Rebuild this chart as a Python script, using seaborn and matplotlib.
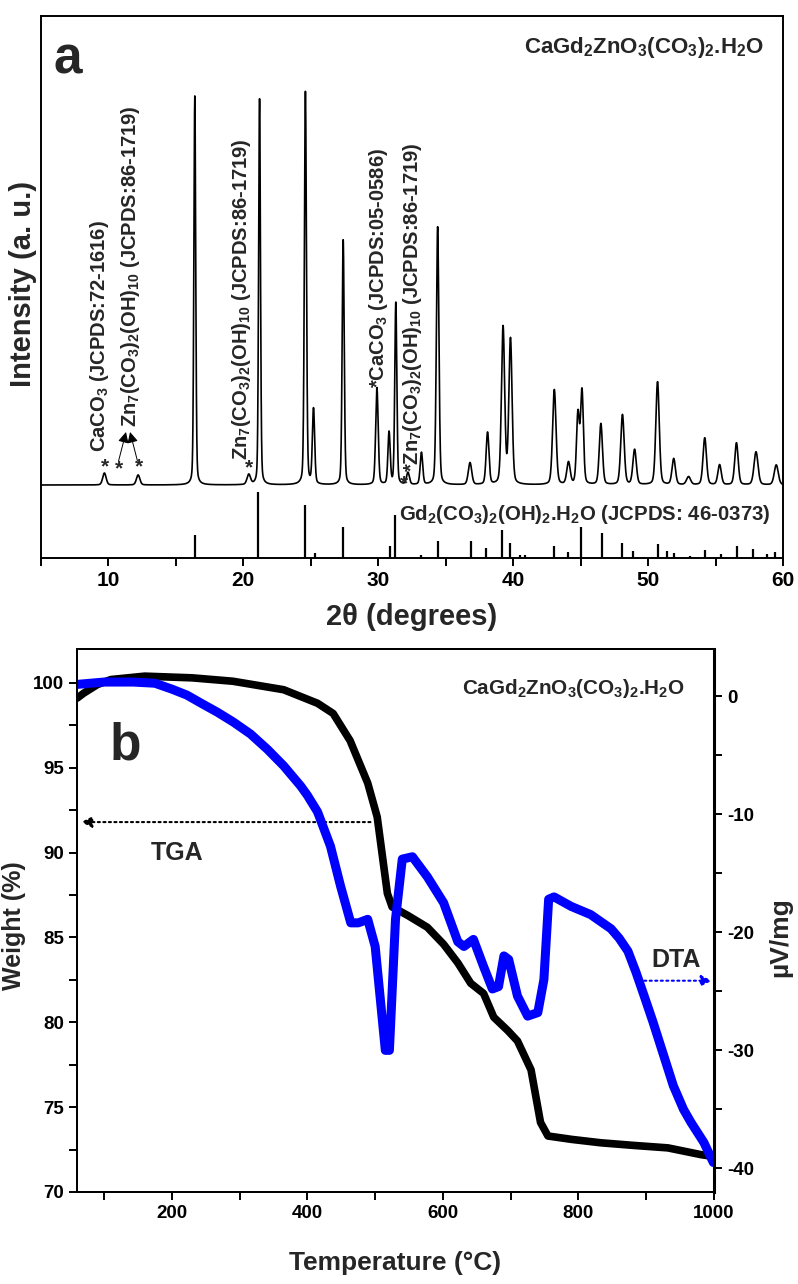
import numpy as np
import matplotlib
matplotlib.use('Agg')
import matplotlib.pyplot as plt
import seaborn as sns

# ---- XRD (panel a) ----
# peak positions (2theta), heights (arbitrary units above baseline) and widths
xrd_pos = [9.7, 12.2, 16.4, 20.4, 21.2, 24.6, 25.2, 27.4, 29.9, 30.8, 31.3, 32.2, 33.2,
           34.4, 36.8, 38.1, 39.25, 39.8, 43.05, 44.1, 44.8, 45.1, 46.5, 48.1, 49.0,
           50.7, 51.9, 53.0, 54.2, 55.3, 56.55, 58.0, 59.5]
xrd_height = [12, 10, 389, 10, 386, 393, 75, 245, 97, 52, 182, 12, 32,
              258, 22, 52, 157, 145, 95, 22, 70, 93, 61, 70, 35,
              103, 26, 8, 47, 20, 42, 33, 20]
xrd_fwhm = [0.3, 0.3, 0.16, 0.3, 0.16, 0.18, 0.2, 0.18, 0.22, 0.2, 0.18, 0.25, 0.22,
            0.22, 0.3, 0.25, 0.28, 0.28, 0.3, 0.3, 0.25, 0.25, 0.28, 0.3, 0.3,
            0.3, 0.3, 0.35, 0.3, 0.3, 0.3, 0.35, 0.35]
xrd_baseline = 73

# reference pattern Gd2(CO3)2(OH)2.H2O (JCPDS 46-0373)
stick_pos = [16.4, 21.1, 24.6, 25.3, 27.4, 30.85, 31.25, 33.2, 34.4, 36.9, 38.0, 39.2,
             39.8, 40.5, 40.9, 43.0, 44.1, 45.0, 46.6, 48.1, 48.9, 50.7, 51.4, 51.9,
             53.1, 54.2, 55.4, 56.6, 57.8, 58.8, 59.4]
stick_height = [23, 66, 53, 5, 31, 12, 43, 3, 17, 17, 10, 28,
                15, 3, 3, 12, 6, 31, 25, 15, 7, 14, 7, 5,
                2, 8, 4, 12, 9, 4, 6]

# ---- TGA / DTA (panel b) ----
tga_temp = [60, 70, 90, 110, 160, 230, 290, 365, 415, 438, 463, 489, 503, 512, 518, 525,
            548, 577, 601, 622, 641, 660, 675, 696, 710, 730, 744, 755, 790, 833, 880,
            932, 981, 998]
tga_weight = [99.1, 99.4, 99.9, 100.2, 100.4, 100.3, 100.1, 99.6, 98.8, 98.2, 96.6, 94.1,
              92.1, 89.4, 87.6, 86.8, 86.3, 85.6, 84.6, 83.5, 82.3, 81.7, 80.3, 79.5,
              78.9, 77.2, 74.1, 73.3, 73.1, 72.9, 72.75, 72.6, 72.2, 72.1]

dta_temp = [60, 100, 143, 175, 200, 222, 245, 267, 291, 316, 341, 365, 390, 400, 415, 434,
            449, 464, 475, 489, 500, 515, 521, 530, 540, 555, 577, 601, 622, 631, 645,
            660, 673, 682, 690, 697, 710, 725, 740, 749, 756, 764, 789, 818, 848, 860,
            873, 885, 897, 910, 925, 940, 955, 966, 985, 999]
dta_uv = [1.0, 1.2, 1.2, 1.1, 0.6, 0.1, -0.65, -1.35, -2.2, -3.2, -4.5, -5.9, -7.6, -8.4,
          -9.8, -12.7, -16.1, -19.2, -19.2, -18.9, -21.2, -30.0, -30.0, -18.9, -13.8,
          -13.6, -15.3, -17.5, -20.8, -21.2, -20.6, -22.9, -24.8, -24.6, -22.0, -22.3,
          -25.4, -27.1, -26.8, -24.0, -17.2, -17.0, -17.8, -18.5, -19.7, -20.5, -21.6,
          -23.4, -25.4, -27.6, -30.3, -33.0, -35.0, -36.1, -37.8, -39.5]

formula = 'CaGd$_2$ZnO$_3$(CO$_3$)$_2$.H$_2$O'

sns.set_theme(style='ticks')
plt.rcParams['font.family'] = ['Liberation Sans', 'DejaVu Sans']
plt.rcParams['font.weight'] = 'bold'
plt.rcParams['mathtext.default'] = 'regular'
plt.rcParams['axes.unicode_minus'] = False
plt.rcParams['axes.linewidth'] = 1.4
plt.rcParams['axes.edgecolor'] = 'black'

fig = plt.figure(figsize=(7.98, 12.84), dpi=100)
W, H = 798, 1284
ax1 = fig.add_axes([41 / W, 1 - 558 / H, 742 / W, 542 / H])
ax2 = fig.add_axes([77 / W, 1 - 1192 / H, 637 / W, 543 / H])

# build XRD profile from the peak list (pseudo-Voigt peaks on a flat baseline)
tt = np.linspace(5, 60, 5501)
profile = np.full_like(tt, xrd_baseline, dtype=float)
for p, h, f in zip(xrd_pos, xrd_height, xrd_fwhm):
    g = np.exp(-4 * np.log(2) * ((tt - p) / f) ** 2)
    lo = 1 / (1 + 4 * ((tt - p) / f) ** 2)
    profile += h * (0.75 * g + 0.25 * lo)

sns.lineplot(x=tt, y=profile, ax=ax1, color='black', linewidth=1.2, sort=False)
ax1.vlines(stick_pos, 0, stick_height, color='black', linewidth=1.6)

ax1.set_xlim(5, 60)
ax1.set_ylim(0, 542)
ax1.set_xticks(range(10, 61, 10))
ax1.set_xticks(range(5, 61, 5), minor=True)
ax1.set_yticks([])
ax1.tick_params(axis='x', which='both', direction='out', length=6, width=1.4,
                labelsize=15, colors='black')
ax1.set_xlabel('2θ (degrees)', fontsize=21, fontweight='bold')
ax1.xaxis.set_label_coords(0.5, -0.083)
ax1.set_ylabel('Intensity (a. u.)', fontsize=21, fontweight='bold')
ax1.yaxis.set_label_coords(-0.006, 0.505)

ax1.text(7.0, 498, 'a', fontsize=37, fontweight='bold', ha='center', va='center')
ax1.text(58.6, 510, formula, fontsize=16, fontweight='bold', ha='right', va='center')
ax1.text(31.5, 43, 'Gd$_2$(CO$_3$)$_2$(OH)$_2$.H$_2$O (JCPDS: 46-0373)', fontsize=14.7,
         fontweight='bold', ha='left', va='center')

vfs = 14.5
zn = 'Zn$_7$(CO$_3$)$_2$(OH)$_{10}$ (JCPDS:86-1719)'
for xx, yy, s in [(9.3, 106, 'CaCO$_3$ (JCPDS:72-1616)'),
                  (11.6, 131, zn),
                  (19.86, 98, zn),
                  (30.04, 170, '*CaCO$_3$ (JCPDS:05-0586)'),
                  (32.56, 86, '*' + zn)]:
    ax1.text(xx, yy, s, rotation=90, rotation_mode='anchor', ha='left', va='center',
             fontsize=vfs, fontweight='bold')

for xx, yy in [(9.75, 91), (10.8, 89), (12.28, 91), (20.45, 90), (31.9, 74)]:
    ax1.text(xx, yy, '*', fontsize=15, ha='center', va='center', fontweight='bold')

for tail, tip in [((10.75, 97), (11.3, 126)), ((12.15, 97), (11.6, 126))]:
    ax1.annotate('', xy=tip, xytext=tail,
                 arrowprops=dict(arrowstyle='-|>', color='black', lw=0.7,
                                 mutation_scale=16, shrinkA=0, shrinkB=0))

# ---- panel b ----
ax3 = ax2.twinx()
sns.lineplot(x=tga_temp, y=tga_weight, ax=ax2, color='black', linewidth=5.5, sort=False)
sns.lineplot(x=dta_temp, y=dta_uv, ax=ax3, color='#0000ff', linewidth=6.5, sort=False)

ax2.set_xlim(60, 1000)
ax2.set_ylim(70, 102)
ax3.set_ylim(-42, 4)
ax2.set_xticks(range(200, 1001, 200))
ax2.set_xticks(range(100, 1001, 100), minor=True)
ax2.set_yticks(range(70, 101, 5))
ax2.set_yticks(np.arange(70, 101, 2.5), minor=True)
ax3.set_yticks(range(-40, 1, 10))
ax3.set_yticks(range(-40, 1, 5), minor=True)
for a in (ax2, ax3):
    a.tick_params(which='both', direction='out', length=6, width=1.4, labelsize=13.5,
                  colors='black')
    for sp in a.spines.values():
        sp.set_linewidth(1.4)
        sp.set_color('black')
ax3.spines['right'].set_linewidth(2.2)

ax2.set_xlabel('Temperature (°C)', fontsize=19, fontweight='bold')
ax2.xaxis.set_label_coords(0.499, -0.108)
ax2.set_ylabel('Weight (%)', fontsize=18, fontweight='bold')
ax2.yaxis.set_label_coords(-0.08, 0.49)
ax3.set_ylabel('µV/mg', fontsize=19, fontweight='bold')
ax3.yaxis.set_label_coords(1.085, 0.47)

ax2.text(131, 96.3, 'b', fontsize=37, fontweight='bold', ha='center', va='center')
ax2.text(956, 99.7, formula, fontsize=14.9, fontweight='bold', ha='right', va='center')
ax2.text(208, 90.0, 'TGA', fontsize=18, fontweight='bold', ha='center', va='center')
ax2.text(944, 83.7, 'DTA', fontsize=18, fontweight='bold', ha='center', va='center')

ax2.annotate('', xy=(66, 91.8), xytext=(493, 91.8),
             arrowprops=dict(arrowstyle='-|>', color='black', lw=1.5, linestyle=':',
                             mutation_scale=16, shrinkA=0, shrinkB=0))
ax3.annotate('', xy=(997, -24.1), xytext=(897, -24.1),
             arrowprops=dict(arrowstyle='-|>', color='#0000ff', lw=1.5, linestyle=':',
                             mutation_scale=16, shrinkA=0, shrinkB=0))

fig.savefig('out.png', dpi=100, facecolor='white')
